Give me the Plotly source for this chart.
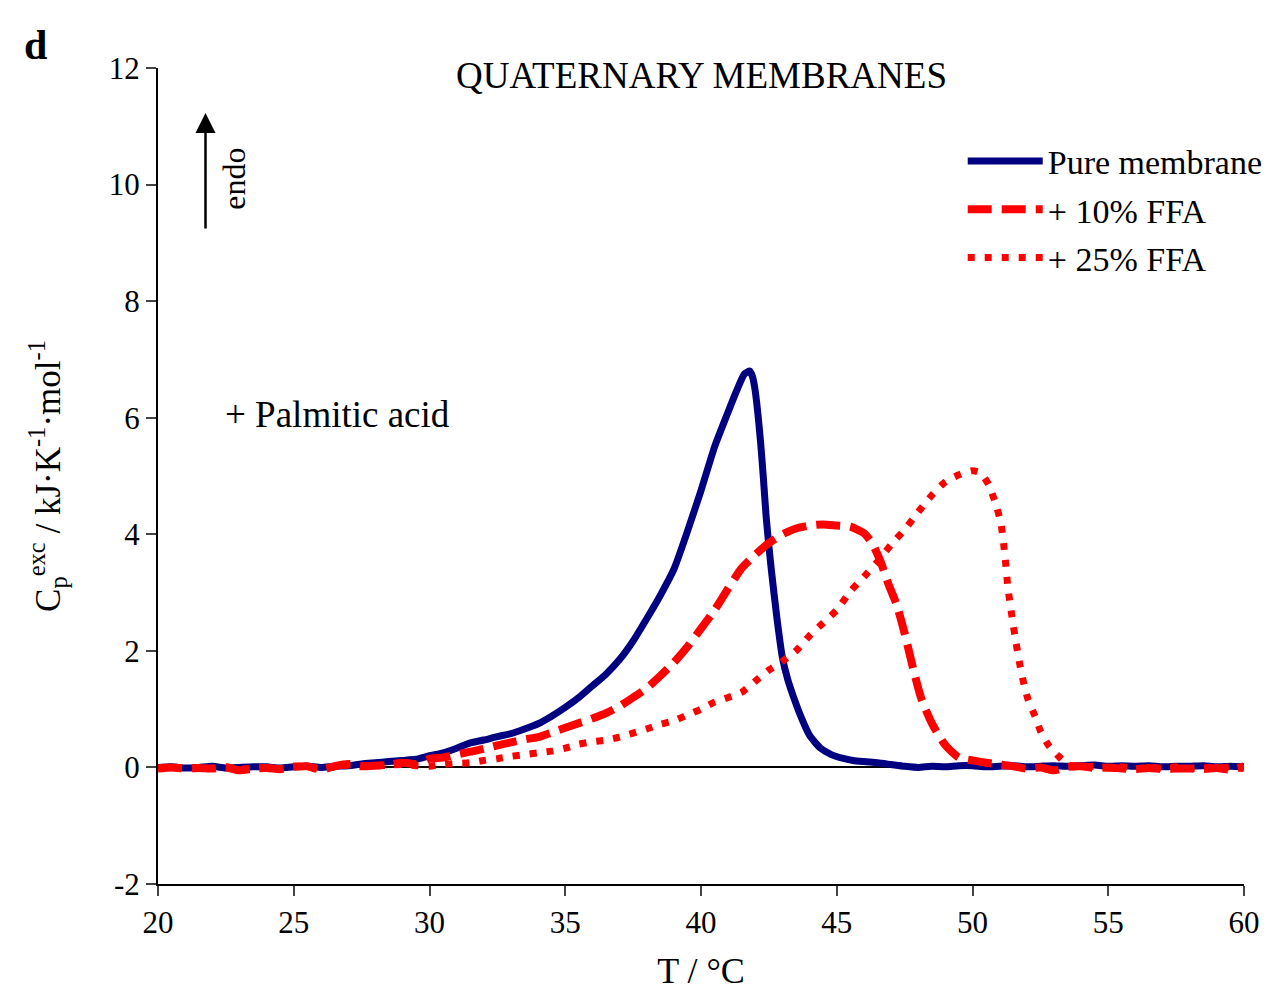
import plotly.graph_objects as go

# Excess heat capacity traces (T in °C, Cp_exc in kJ/K/mol)
t_pure = [20, 20.5, 21, 21.5, 22, 22.5, 23, 23.5, 24, 24.5, 25, 25.5, 26, 26.5, 27, 27.5,
          28, 28.5, 29, 29.5, 30, 30.5, 31, 31.5, 32, 32.5, 33, 33.5, 34, 34.5, 35, 35.5,
          36, 36.5, 37, 37.5, 38, 38.5, 39, 39.5, 40, 40.5, 41, 41.3, 41.6, 41.8, 41.9,
          42.0, 42.1, 42.2, 42.3, 42.4, 42.5, 42.6, 42.8, 43.0, 43.2, 43.4, 43.7, 44.0,
          44.4, 44.8, 45.2, 45.6, 46, 46.5, 47, 47.5, 48, 48.5, 49, 49.5, 50, 50.5, 51,
          51.5, 52, 52.5, 53, 53.5, 54, 54.5, 55, 55.5, 56, 56.5, 57, 57.5, 58, 58.5, 59,
          59.5, 60]
cp_pure = [0.0, 0.01, -0.01, 0.0, 0.02, -0.01, 0.0, 0.01, 0.01, -0.01, 0.01, 0.02, 0.0,
           0.02, 0.03, 0.06, 0.08, 0.1, 0.12, 0.14, 0.2, 0.25, 0.33, 0.42, 0.47, 0.53, 0.58,
           0.66, 0.75, 0.88, 1.03, 1.2, 1.4, 1.6, 1.85, 2.17, 2.55, 2.95, 3.4, 4.05, 4.75,
           5.5, 6.1, 6.45, 6.75, 6.8, 6.7, 6.45, 6.05, 5.55, 4.95, 4.3, 3.8, 3.35, 2.55,
           1.88, 1.5, 1.22, 0.85, 0.55, 0.33, 0.22, 0.16, 0.12, 0.1, 0.08, 0.05, 0.02,
           0.0, 0.02, 0.01, 0.03, 0.03, 0.01, 0.02, 0.03, 0.01, 0.02, 0.03, 0.02, 0.03,
           0.04, 0.02, 0.03, 0.02, 0.03, 0.01, 0.02, 0.02, 0.03, 0.01, 0.02, 0.01]

t_ffa10 = [20, 20.5, 21, 21.5, 22, 22.5, 23, 23.5, 24, 24.5, 25, 25.5, 26, 26.5, 27, 27.5,
           28, 28.5, 29, 29.5, 30, 30.5, 31, 31.5, 32, 32.5, 33, 33.5, 34, 34.5, 35, 35.5,
           36, 36.5, 37, 37.5, 38, 38.5, 39, 39.5, 40, 40.5, 41, 41.5, 42, 42.5, 43, 43.5,
           44, 44.5, 45, 45.5, 46.0, 46.3, 46.6, 46.9, 47.2, 47.5, 47.8, 48.1, 48.5, 49.0,
           49.5, 50, 50.5, 51, 51.5, 52, 52.5, 53, 53.5, 54, 54.5, 55, 55.5, 56, 56.5, 57,
           57.5, 58, 58.5, 59, 59.5, 60]
cp_ffa10 = [-0.02, 0.0, -0.02, -0.01, -0.02, 0.0, -0.05, -0.02, -0.01, -0.03, 0.01, 0.02,
            -0.04, 0.02, 0.06, 0.02, 0.03, 0.05, 0.08, 0.06, 0.15, 0.17, 0.22, 0.27, 0.32,
            0.38, 0.43, 0.48, 0.52, 0.6, 0.68, 0.76, 0.84, 0.93, 1.05, 1.2, 1.36, 1.57, 1.8,
            2.07, 2.38, 2.7, 3.07, 3.42, 3.65, 3.85, 4.0, 4.1, 4.15, 4.17, 4.15, 4.13, 4.02,
            3.85, 3.55, 3.15, 2.8, 2.3, 1.72, 1.2, 0.76, 0.38, 0.17, 0.12, 0.08, 0.05, 0.02,
            -0.02, 0.0, -0.05, 0.01, 0.02, -0.01, 0.0, -0.02, -0.03, -0.01, -0.03, -0.02,
            -0.02, -0.03, -0.01, -0.04, 0.02]

t_ffa25 = [20, 20.5, 21, 21.5, 22, 22.5, 23, 23.5, 24, 24.5, 25, 25.5, 26, 26.5, 27, 27.5,
           28, 28.5, 29, 29.5, 30, 30.5, 31, 31.5, 32, 32.5, 33, 33.5, 34, 34.5, 35, 35.5,
           36, 36.5, 37, 37.5, 38, 38.5, 39, 39.5, 40, 40.5, 41, 41.5, 42, 42.5, 43, 43.5,
           44, 44.5, 45, 45.5, 46, 46.5, 47, 47.5, 48, 48.5, 49, 49.5, 50, 50.3, 50.6, 50.9,
           51.05, 51.2, 51.3, 51.45, 51.6, 51.75, 51.9, 52.05, 52.3, 52.5, 52.8, 53.15, 53.5,
           54, 54.5, 55, 55.5, 56, 56.5, 57, 57.5, 58, 58.5, 59, 59.5, 60]
cp_ffa25 = [-0.01, 0.01, -0.01, 0.0, -0.02, 0.01, -0.03, -0.01, 0.0, -0.02, 0.02, 0.01,
            -0.03, 0.01, 0.04, 0.03, 0.02, 0.04, 0.05, 0.03, 0.02, 0.05, 0.07, 0.08, 0.12,
            0.15, 0.19, 0.22, 0.25, 0.28, 0.33, 0.4, 0.44, 0.47, 0.52, 0.59, 0.66, 0.74, 0.8,
            0.9, 1.0, 1.12, 1.2, 1.29, 1.48, 1.67, 1.82, 2.0, 2.26, 2.48, 2.7, 3.02, 3.27,
            3.53, 3.82, 4.08, 4.38, 4.67, 4.9, 5.02, 5.09, 5.05, 4.85, 4.45, 4.18, 3.61,
            3.1, 2.6, 2.15, 1.75, 1.42, 1.16, 0.88, 0.63, 0.38, 0.2, 0.05, 0.0, 0.02,
            -0.01, 0.01, -0.02, 0.0, -0.01, 0.01, -0.02, 0.0, -0.01, 0.01, -0.02]

x_ticks = [20, 25, 30, 35, 40, 45, 50, 55, 60]
y_ticks = [-2, 0, 2, 4, 6, 8, 10, 12]
y_tick_text = ["-2", "0", "2", "4", "6", "8", "10", "12"]

FONT = "Liberation Serif"

fig = go.Figure()
fig.add_trace(go.Scatter(x=t_pure, y=cp_pure, mode="lines", name="Pure membrane",
                         line=dict(color="#000080", width=7, shape="spline", smoothing=0.6),
                         legendgroup="a"))
fig.add_trace(go.Scatter(x=t_ffa10, y=cp_ffa10, mode="lines", name="+ 10% FFA",
                         line=dict(color="#ff0000", width=8, dash="24px,10px",
                                   shape="spline", smoothing=0.6),
                         legendgroup="b"))
fig.add_trace(go.Scatter(x=t_ffa25, y=cp_ffa25, mode="lines", name="+ 25% FFA",
                         line=dict(color="#ff0000", width=7, dash="7px,10px",
                                   shape="spline", smoothing=0.6),
                         legendgroup="c"))

fig.update_layout(
    width=1276, height=991,
    margin=dict(l=158, r=32, t=68, b=107, autoexpand=False),
    paper_bgcolor="white", plot_bgcolor="white",
    font=dict(family=FONT, size=31, color="black"),
    showlegend=True,
    legend=dict(x=0.741, y=0.921, xanchor="left", yanchor="top",
                font=dict(family=FONT, size=34), itemwidth=75,
                traceorder="grouped", tracegroupgap=1,
                bgcolor="rgba(0,0,0,0)"),
    xaxis=dict(range=[20, 60], tickvals=x_ticks, ticks="outside", ticklen=10,
               tickwidth=2, showline=True, linewidth=2, linecolor="black",
               showgrid=False, zeroline=False, automargin=False,
               title=dict(text="T / °C", font=dict(size=36), standoff=20)),
    yaxis=dict(range=[-2, 12], tickvals=y_ticks, ticktext=y_tick_text, ticks="outside",
               ticklen=10, tickwidth=2, showline=True, linewidth=2, linecolor="black",
               showgrid=False, zeroline=True, zerolinecolor="black", zerolinewidth=2,
               automargin=False,
               title=dict(text="C<sub>p</sub><sup>exc</sup> / kJ·K<sup>-1</sup>·mol<sup>-1</sup>",
                          font=dict(size=35), standoff=38)),
)

fig.add_annotation(text="<b>d</b>", xref="paper", yref="paper", x=-0.113, y=1.028,
                   showarrow=False, font=dict(size=42), xanchor="center", yanchor="middle")
fig.add_annotation(text="QUATERNARY MEMBRANES", xref="x", yref="paper", x=40, y=0.991,
                   showarrow=False, font=dict(size=37), xanchor="center", yanchor="middle")
fig.add_annotation(text="+ Palmitic acid", xref="x", yref="y", x=26.6, y=6.05,
                   showarrow=False, font=dict(size=37), xanchor="center", yanchor="middle")
fig.add_annotation(text="", xref="x", yref="y", x=21.75, y=11.23,
                   axref="x", ayref="y", ax=21.75, ay=9.22,
                   showarrow=True, arrowhead=2, arrowsize=1.6, arrowwidth=2.5,
                   arrowcolor="black", standoff=0)
fig.add_annotation(text="endo", xref="x", yref="y", x=22.8, y=10.1, textangle=-90,
                   showarrow=False, font=dict(size=32), xanchor="center", yanchor="middle")

fig.write_html("out.html")
